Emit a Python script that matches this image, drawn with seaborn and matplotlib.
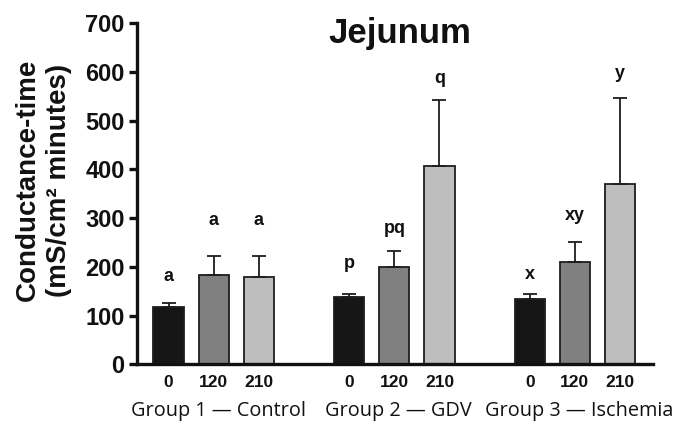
import matplotlib
matplotlib.use("Agg")
import matplotlib.pyplot as plt
import matplotlib.transforms as mtransforms
import seaborn as sns
import pandas as pd
import numpy as np

# ---- data ----
groups = ["Group 1 \u2014 Control", "Group 2 \u2014 GDV", "Group 3 \u2014 Ischemia"]
times = ["0", "120", "210"]
g1_means = [117, 183, 180]
g2_means = [138, 200, 408]
g3_means = [134, 209, 371]
g1_err = [8, 39, 42]
g2_err = [6, 33, 135]
g3_err = [10, 43, 176]
g1_letters = ["a", "a", "a"]
g2_letters = ["p", "pq", "q"]
g3_letters = ["x", "xy", "y"]
g1_letter_y = [170, 286, 286]
g2_letter_y = [197, 269, 577]
g3_letter_y = [175, 296, 588]
yticks = [0, 100, 200, 300, 400, 500, 600, 700]
bar_colors = {"0": "#161616", "120": "#808080", "210": "#bebebe"}

means = [g1_means, g2_means, g3_means]
errs = [g1_err, g2_err, g3_err]
letters = [g1_letters, g2_letters, g3_letters]
letter_y = [g1_letter_y, g2_letter_y, g3_letter_y]

rows = []
for gi, g in enumerate(groups):
    for ti, t in enumerate(times):
        rows.append({"group": g, "time": t, "pos": gi * 4 + ti,
                     "mean": means[gi][ti], "err": errs[gi][ti],
                     "letter": letters[gi][ti], "ly": letter_y[gi][ti]})
df = pd.DataFrame(rows)

sns.set_style("ticks")
plt.rcParams["font.family"] = ["Liberation Sans", "DejaVu Sans"]

fig = plt.figure(figsize=(6.77, 4.22), dpi=100)
ax = fig.add_axes([137 / 677, 1 - 364.3 / 422, (653 - 137) / 677, (364.3 - 23.3) / 422])

sns.barplot(data=df, x="pos", y="mean", hue="time", palette=bar_colors,
            native_scale=True, dodge=False, width=0.67, errorbar=None,
            edgecolor="#1e1e1e", linewidth=1.3, legend=False, ax=ax, zorder=2)

ax.errorbar(df["pos"], df["mean"], yerr=[np.zeros(len(df)), df["err"]],
            fmt="none", ecolor="#1e1e1e", elinewidth=1.3, capsize=5.2,
            capthick=1.3, zorder=3)

for _, r in df.iterrows():
    ax.text(r["pos"], r["ly"], r["letter"], ha="center", va="baseline",
            fontsize=13, fontweight="bold", color="#111111")

ax.set_xlim(-0.70, 10.73)
ax.set_ylim(0, 700)
ax.set_yticks(yticks)
ax.set_yticklabels([str(v) for v in yticks], fontsize=17, fontweight="bold",
                   color="#111111")
ax.set_xticks(df["pos"])
ax.set_xticklabels(df["time"], fontsize=12.5, fontweight="bold", color="#111111")
ax.tick_params(axis="x", length=0, pad=8)
ax.tick_params(axis="y", length=6, width=2.4, pad=3, direction="out", color="#111111")
ax.set_xlabel("")
ax.set_ylabel("")

for s in ["top", "right"]:
    ax.spines[s].set_visible(False)
for s in ["left", "bottom"]:
    ax.spines[s].set_linewidth(2.4)
    ax.spines[s].set_color("#111111")

# group labels
trans = mtransforms.blended_transform_factory(ax.transData, ax.transAxes)
for gi, g in enumerate(groups):
    ax.text(gi * 4 + 1 + 0.1, -0.137, g, transform=trans, ha="center", va="center",
            fontsize=14.3, family=["Open Sans", "DejaVu Sans"], color="#111111")

# title
ax.text(0.51, 0.942, "Jejunum", transform=ax.transAxes, ha="center", va="baseline",
        fontsize=25, fontweight="bold", color="#111111")

# y label
fig.text(0.064, 0.573, "Conductance-time\n(mS/cm\u00b2 minutes)", rotation=90,
         ha="center", va="center", multialignment="center", linespacing=1.22,
         fontsize=20, fontweight="bold", color="#111111")

fig.savefig("out.png", dpi=100)
